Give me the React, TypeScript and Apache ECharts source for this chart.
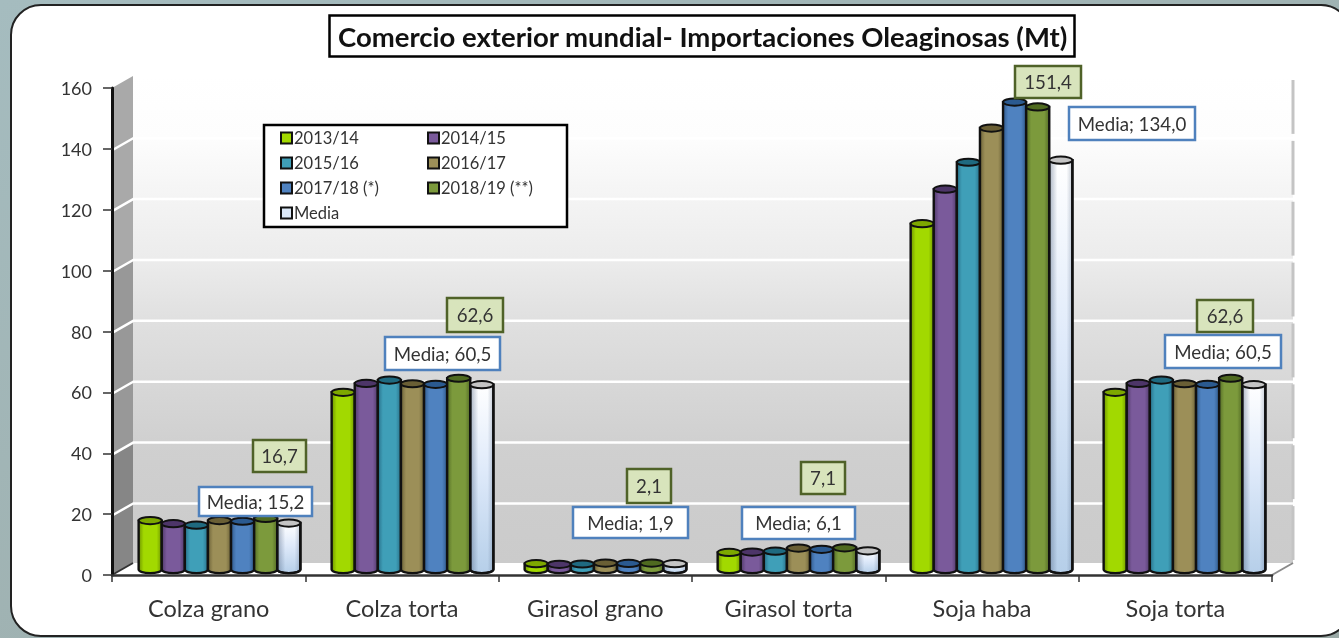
import React, { useEffect, useRef } from "react";
import * as echarts from "echarts";

const categories = ["Colza grano", "Colza torta", "Girasol grano", "Girasol torta", "Soja haba", "Soja torta"];
const v201314 = [16.0, 58.0, 1.9, 5.6, 113.2, 58.0];
const v201415 = [15.0, 60.9, 1.7, 5.7, 124.5, 60.9];
const v201516 = [14.5, 62.0, 1.8, 6.0, 133.3, 62.0];
const v201617 = [16.0, 60.8, 2.1, 7.0, 144.5, 60.8];
const v201718 = [15.8, 60.6, 2.0, 6.6, 153.0, 60.6];
const v201819 = [16.7, 62.6, 2.1, 7.1, 151.4, 62.6];
const vMedia = [15.2, 60.5, 1.9, 6.1, 134.0, 60.5];
const seriesNames = ["2013/14", "2014/15", "2015/16", "2016/17", "2017/18 (*)", "2018/19 (**)", "Media"];
const seriesValues = [v201314, v201415, v201516, v201617, v201718, v201819, vMedia];
const yTicks = [0, 20, 40, 60, 80, 100, 120, 140, 160];

const baseColors = ["#a2d900", "#7a5a9b", "#3f9fb8", "#9c8f58", "#4f82c0", "#7c9a3c", "#dbe8f7"];
const edgeColors = ["#6f9600", "#513a6b", "#28708a", "#6c6238", "#305a8c", "#546c26", "#8aa0b8"];
const capColors = ["#7da800", "#4d3568", "#1f6a80", "#6a5f35", "#2b5a90", "#4f6a20", "#c4c4c4"];
const bandTop = ["#cbcbcb", "#cdcdcd", "#d0d0d0", "#d8d8d8", "#e0e0e0", "#ececec", "#f4f4f4", "#fdfdfd", "#ffffff"];

const greenBoxes = [
  [253, 440, 53, 32], [447, 298, 56, 34], [627, 469, 44, 34],
  [801, 462, 44, 32], [1015, 66, 66, 32], [1197, 300, 56, 32],
];
const blueBoxes = [
  [199, 487, 113, 29], [385, 337, 115, 33], [573, 507, 115, 31],
  [742, 507, 113, 32], [1069, 107, 126, 33], [1165, 335, 116, 33],
];

const comma = (v: number) => v.toFixed(1).replace(".", ",");
const FONT = "Lato";
const DEPTH_X = 21;
const DEPTH_Y = -12;

function callout(box: number[], text: string, fill: string, stroke: string) {
  const [x, y, w, h] = box;
  return {
    type: "group",
    x,
    y,
    children: [
      { type: "rect", z: 50, shape: { x: 0, y: 0, width: w, height: h }, style: { fill, stroke, lineWidth: 2.5 } },
      {
        type: "text",
        z: 51,
        x: w / 2,
        y: h / 2,
        style: { text, fill: "#333", font: `18.7px ${FONT}`, align: "center", verticalAlign: "middle" },
      },
    ],
  };
}

function renderWall(params: any, api: any) {
  const from = api.value(0);
  const to = api.value(1);
  const idx = params.dataIndex;
  const left = params.coordSys.x;
  const right = left + params.coordSys.width;
  const ay = api.coord([0, from])[1];
  const by = api.coord([0, to])[1];
  const wx0 = left + DEPTH_X;
  const wx1 = right + DEPTH_X;
  const ya = ay + DEPTH_Y;
  const yb = by + DEPTH_Y;
  return {
    type: "group",
    silent: true,
    children: [
      {
        type: "rect",
        shape: { x: wx0, y: yb, width: wx1 - wx0, height: ya - yb },
        style: {
          fill: new echarts.graphic.LinearGradient(0, 0, 0, 1, [
            { offset: 0, color: bandTop[idx + 1] },
            { offset: 1, color: bandTop[idx] },
          ]),
        },
      },
      {
        type: "polygon",
        shape: { points: [[left, ay], [wx0, ya], [wx0, yb], [left, by]] },
        style: { fill: idx > 4 ? "#a9a9a9" : idx > 1 ? "#989898" : "#868686" },
      },
      idx < 7
        ? {
            type: "polyline",
            shape: { points: [[left, by], [wx0, yb], [wx1, yb]] },
            style: { fill: "none", stroke: "#ffffff", lineWidth: 5 },
          }
        : { type: "group", children: [] },
      {
        type: "line",
        shape: { x1: wx1, y1: yb + 4, x2: wx1, y2: ya - 3 },
        style: { stroke: "#c4c4c4", lineWidth: 3 },
      },
    ],
  };
}

function renderFloor(params: any, api: any) {
  const x = params.coordSys.x;
  const y = api.coord([0, 0])[1];
  const w = params.coordSys.width;
  return {
    type: "group",
    silent: true,
    children: [
      {
        type: "polygon",
        shape: { points: [[x, y], [x + DEPTH_X, y + DEPTH_Y], [x + w + DEPTH_X, y + DEPTH_Y], [x + w, y]] },
        style: { fill: "#ffffff" },
      },
      {
        type: "line",
        shape: { x1: x + w, y1: y, x2: x + w + DEPTH_X, y2: y + DEPTH_Y },
        style: { stroke: "#8a8a8a", lineWidth: 2 },
      },
      {
        type: "line",
        shape: { x1: x, y1: y, x2: x + DEPTH_X, y2: y + DEPTH_Y },
        style: { stroke: "#333", lineWidth: 2 },
      },
    ],
  };
}

function makeCylinder(i: number) {
  return (params: any, api: any) => {
    const cat = api.value(0);
    const top = api.coord([cat, api.value(1)]);
    const base = api.coord([cat, 0]);
    const barW = api.size([1, 0])[0] * 0.1197;
    const cx = top[0] + (i - 3) * barW;
    const rx = barW / 2;
    const ry = 3.6;
    const x0 = cx - rx;
    const x1 = cx + rx;
    const body =
      i === 6
        ? new echarts.graphic.LinearGradient(0, 0, 0, 1, [
            { offset: 0, color: "#ffffff" },
            { offset: 0.45, color: "#dfeafa" },
            { offset: 1, color: "#b6cfe9" },
          ])
        : new echarts.graphic.LinearGradient(0, 0, 1, 0, [
            { offset: 0, color: edgeColors[i] },
            { offset: 0.22, color: baseColors[i] },
            { offset: 0.78, color: baseColors[i] },
            { offset: 1, color: edgeColors[i] },
          ]);
    const d = `M${x0} ${top[1]} L${x0} ${base[1]} A${rx} ${ry} 0 0 0 ${x1} ${base[1]} L${x1} ${top[1]} Z`;
    const children: any[] = [
      {
        type: "path",
        shape: { pathData: d, layout: "none" },
        style: { fill: body, stroke: "#111", lineWidth: 2.4 },
      },
    ];
    if (i === 6) {
      children.push({
        type: "path",
        shape: { pathData: d, layout: "none" },
        style: {
          fill: new echarts.graphic.LinearGradient(0, 0, 1, 0, [
            { offset: 0, color: "rgba(70,90,120,0.45)" },
            { offset: 0.35, color: "rgba(70,90,120,0)" },
            { offset: 0.75, color: "rgba(70,90,120,0)" },
            { offset: 1, color: "rgba(70,90,120,0.3)" },
          ]),
          stroke: "#111",
          lineWidth: 2.4,
        },
      });
    }
    children.push({
      type: "ellipse",
      shape: { cx, cy: top[1], rx, ry },
      style: { fill: capColors[i], stroke: "#111", lineWidth: 2 },
    });
    return { type: "group", children };
  };
}

export default function App() {
  const ref = useRef<HTMLDivElement>(null);
  useEffect(() => {
    document.body.style.margin = "0";
    const chart = echarts.init(ref.current!, null, { renderer: "svg" });
    const bands = yTicks.slice(0, -1).map((t, k) => [t, yTicks[k + 1]]);
    const blueTexts = vMedia.map((v) => `Media; ${comma(v)}`);
    const greenTexts = v201819.map(comma);
    chart.setOption({
      animation: false,
      backgroundColor: "transparent",
      textStyle: { fontFamily: FONT },
      title: {
        text: "Comercio exterior mundial- Importaciones Oleaginosas (Mt)",
        left: 329,
        top: 15,
        padding: [7, 7, 7, 9],
        backgroundColor: "#fff",
        borderColor: "#000",
        borderWidth: 2.5,
        textStyle: { fontFamily: FONT, fontWeight: 700, fontSize: 27.5, color: "#111" },
      },
      legend: {
        left: 280,
        top: 126,
        padding: 0,
        orient: "horizontal",
        width: 312,
        itemWidth: 11,
        itemHeight: 11,
        itemGap: 1,
        icon: "rect",
        selectedMode: false,
        data: seriesNames,
        textStyle: { fontFamily: FONT, fontSize: 16.5, color: "#333", width: 132, lineHeight: 24, padding: [0, 0, 0, -3] },
        z: 40,
      },
      grid: [
        { left: 112, right: 67, top: 88, bottom: 63 },
        { left: 123, right: 58, top: 80.7, bottom: 68.5 },
      ],
      xAxis: [
        {
          gridIndex: 0,
          type: "category",
          data: categories,
          boundaryGap: true,
          axisLine: { lineStyle: { color: "#333", width: 2.5 } },
          axisTick: { show: true, alignWithLabel: false, length: 7, lineStyle: { color: "#333", width: 1.5 } },
          axisLabel: { fontFamily: FONT, fontSize: 23.5, color: "#333", margin: 21 },
          z: 20,
        },
        { gridIndex: 1, type: "category", data: categories, show: false },
      ],
      yAxis: [
        {
          gridIndex: 0,
          type: "value",
          min: 0,
          max: 160,
          interval: 20,
          axisLine: { show: true, lineStyle: { color: "#111", width: 3 } },
          axisTick: { show: true, length: 9, lineStyle: { color: "#333", width: 1.5 } },
          axisLabel: { fontFamily: FONT, fontSize: 18, color: "#333", margin: 20 },
          splitLine: { show: false },
          z: 20,
        },
        { gridIndex: 1, type: "value", min: 0, max: 160, interval: 20, show: false },
      ],
      series: [
        {
          type: "custom",
          name: "wall",
          xAxisIndex: 0,
          yAxisIndex: 0,
          clip: false,
          silent: true,
          z: 1,
          data: bands,
          encode: { y: [0, 1] },
          renderItem: renderWall,
        },
        {
          type: "custom",
          name: "floor",
          xAxisIndex: 0,
          yAxisIndex: 0,
          clip: false,
          silent: true,
          z: 2,
          data: [[0, 0]],
          renderItem: renderFloor,
        },
        ...seriesNames.map((name, i) => ({
          type: "custom",
          name,
          xAxisIndex: 1,
          yAxisIndex: 1,
          clip: false,
          z: 10,
          itemStyle: { color: i === 6 ? "#dbe8f7" : baseColors[i], borderColor: "#111", borderWidth: 1.5 },
          data: seriesValues[i].map((v, k) => [k, v]),
          encode: { x: 0, y: 1 },
          renderItem: makeCylinder(i),
        })),
      ],
      graphic: [
        {
          type: "rect",
          silent: true,
          z: -10,
          shape: { x: 0, y: 0, width: 1339, height: 638 },
          style: {
            fill: new echarts.graphic.LinearGradient(0, 0, 1, 1, [
              { offset: 0, color: "#a5bcbf" },
              { offset: 1, color: "#9aa9a6" },
            ]),
          },
        },
        {
          type: "rect",
          silent: true,
          z: -9,
          shape: { x: 11, y: 5, width: 1340, height: 631, r: 30 },
          style: { fill: "#fff", stroke: "#222", lineWidth: 2 },
        },
        {
          type: "rect",
          silent: true,
          z: 39,
          shape: { x: 264, y: 125, width: 303, height: 102 },
          style: { fill: "#fff", stroke: "#000", lineWidth: 2.5 },
        },
        ...greenBoxes.map((b, i) => callout(b, greenTexts[i], "#d8e4bc", "#4f6228")),
        ...blueBoxes.map((b, i) => callout(b, blueTexts[i], "#ffffff", "#4f81bd")),
      ],
    });
    return () => chart.dispose();
  }, []);
  return <div ref={ref} style={{ width: 1339, height: 638, filter: "blur(0.5px)" }} />;
}
